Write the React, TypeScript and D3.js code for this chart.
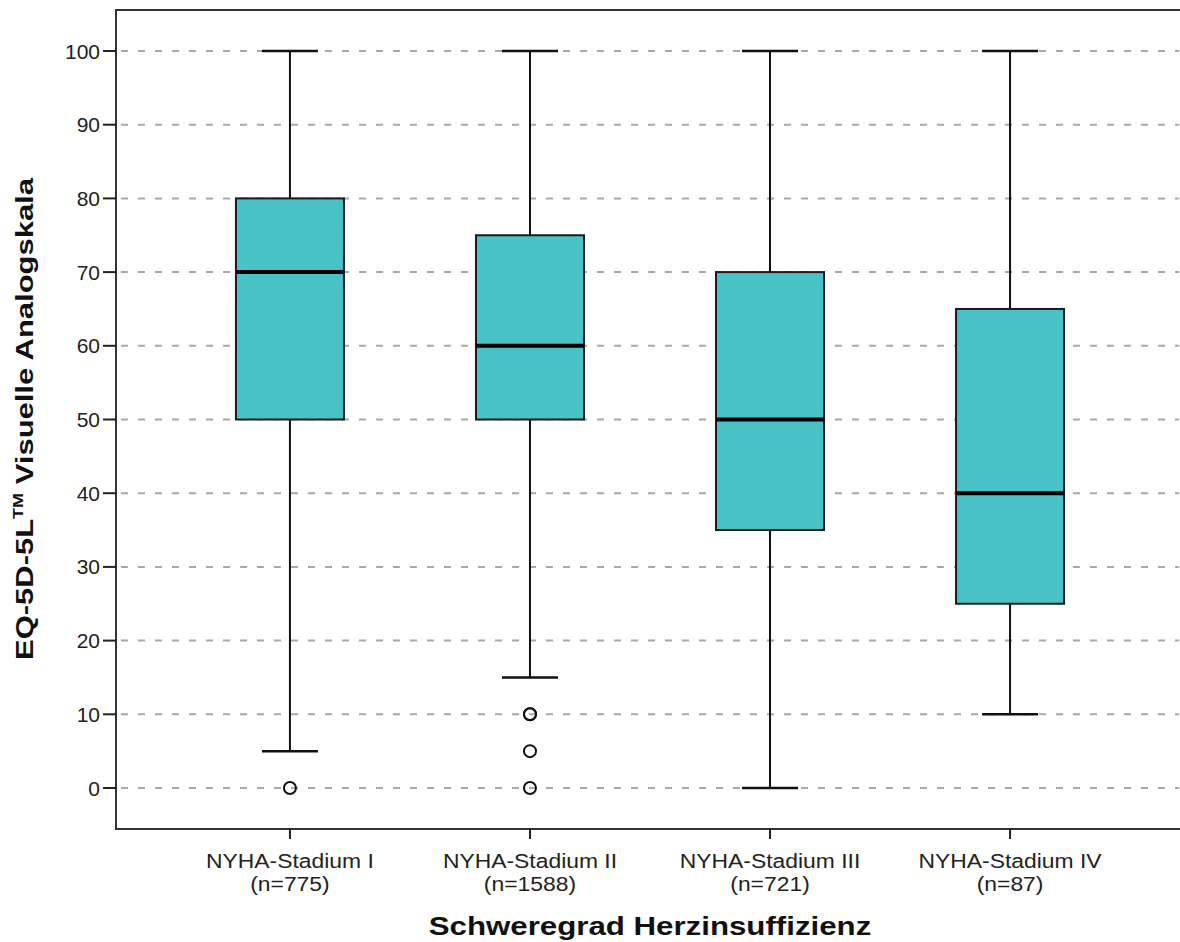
import React from "react";
import * as d3 from "d3";

const categories = ["NYHA-Stadium I", "NYHA-Stadium II", "NYHA-Stadium III", "NYHA-Stadium IV"];
const sampleSizes = ["(n=775)", "(n=1588)", "(n=721)", "(n=87)"];
const whiskerLow = [5, 15, 0, 10];
const q1 = [50, 50, 35, 25];
const medians = [70, 60, 50, 40];
const q3 = [80, 75, 70, 65];
const whiskerHigh = [100, 100, 100, 100];
const outliers: number[][] = [[0], [10, 10, 5, 0], [], []];
const yTicks = [0, 10, 20, 30, 40, 50, 60, 70, 80, 90, 100];

const W = 1180;
const H = 942;
const left = 116;
const right = 1179;
const top = 10;
const bottom = 829;

export default function App() {
  const y = d3.scaleLinear().domain([0, 100]).range([788, 51]);
  const x = d3.scalePoint<string>().domain(categories).range([120, 1180]).padding(0.708);
  const boxW = 108;
  const capW = 56;
  const font = "'Liberation Sans', Arial, sans-serif";

  return (
    <svg width={W} height={H} style={{ position: "absolute", left: 0, top: 0, background: "#fff" }}>
      {/* gridlines */}
      {yTicks.map((t) => (
        <line key={"g" + t} x1={left + 1} x2={right} y1={y(t)} y2={y(t)}
          stroke="#a8a8a8" strokeWidth={2} strokeDasharray="7,10" strokeDashoffset={-4} />
      ))}
      {/* boxes */}
      {categories.map((c, i) => {
        const cx = x(c)!;
        return (
          <g key={c}>
            <line x1={cx} x2={cx} y1={y(whiskerHigh[i])} y2={y(q3[i])} stroke="#111" strokeWidth={2} />
            <line x1={cx} x2={cx} y1={y(q1[i])} y2={y(whiskerLow[i])} stroke="#111" strokeWidth={2} />
            <line x1={cx - capW / 2} x2={cx + capW / 2} y1={y(whiskerHigh[i])} y2={y(whiskerHigh[i])} stroke="#111" strokeWidth={2.5} />
            <line x1={cx - capW / 2} x2={cx + capW / 2} y1={y(whiskerLow[i])} y2={y(whiskerLow[i])} stroke="#111" strokeWidth={2.5} />
            <rect x={cx - boxW / 2} y={y(q3[i])} width={boxW} height={y(q1[i]) - y(q3[i])}
              fill="#48C2C6" stroke="#1a1a1a" strokeWidth={2} />
            <line x1={cx - boxW / 2} x2={cx + boxW / 2} y1={y(medians[i])} y2={y(medians[i])} stroke="#000" strokeWidth={4} />
            {outliers[i].map((v, j) => (
              <circle key={j} cx={cx} cy={y(v)} r={6} fill="none" stroke="#111" strokeWidth={2} />
            ))}
          </g>
        );
      })}
      {/* frame */}
      <rect x={left} y={top} width={right - left + 4} height={bottom - top} fill="none" stroke="#333" strokeWidth={2} />
      {/* y ticks */}
      {yTicks.map((t) => (
        <g key={"t" + t}>
          <line x1={103} x2={left} y1={y(t)} y2={y(t)} stroke="#222" strokeWidth={2} />
          <text x={100} y={y(t)} dy="0.36em" textAnchor="end" fontFamily={font} fontSize={21} fill="#222">{t}</text>
        </g>
      ))}
      {/* x ticks */}
      {categories.map((c, i) => (
        <g key={"x" + c}>
          <line x1={x(c)!} x2={x(c)!} y1={bottom} y2={839} stroke="#222" strokeWidth={2} />
          <g transform={`translate(${x(c)!},0) scale(1.09,1)`}>
            <text x={0} y={868} textAnchor="middle" fontFamily={font} fontSize={21} fill="#222">{c}</text>
            <text x={0} y={891} textAnchor="middle" fontFamily={font} fontSize={21} fill="#222">{sampleSizes[i]}</text>
          </g>
        </g>
      ))}
      <g transform="translate(650,935) scale(1.25,1)">
        <text x={0} y={0} textAnchor="middle" fontFamily={font} fontSize={25} fontWeight="bold" fill="#111">
          Schweregrad Herzinsuffizienz
        </text>
      </g>
      <g transform="translate(33,419) rotate(-90) scale(1.29,1)">
        <text x={0} y={0} textAnchor="middle" fontFamily={font} fontSize={24} fontWeight="bold" fill="#111">
          EQ-5D-5L<tspan fontSize={14} dy={-10}>TM</tspan><tspan dy={10}> Visuelle Analogskala</tspan>
        </text>
      </g>
    </svg>
  );
}
